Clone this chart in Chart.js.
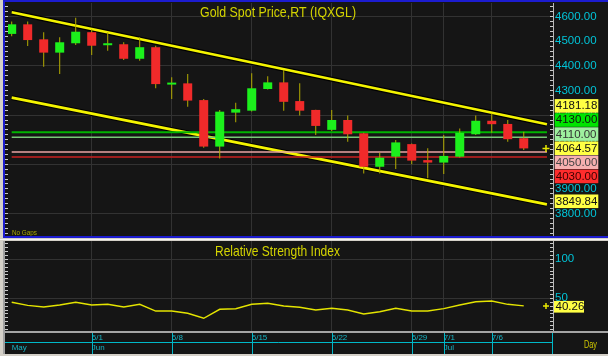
<!DOCTYPE html>
<html><head><meta charset="utf-8">
<script src="https://cdn.jsdelivr.net/npm/chart.js@4.4.1/dist/chart.umd.min.js"></script>
<style>
html,body{margin:0;padding:0;}
body{width:608px;height:356px;background:#d4d0c8;position:relative;overflow:hidden;}
#p1{position:absolute;left:3px;top:0;width:603px;height:234px;border:2px solid #1c1cd0;border-right:none;background:#151515;}
#gap{position:absolute;left:0;top:239px;width:608px;height:1px;background:#f4f4f4;}
#p2{position:absolute;left:3px;top:241px;width:603px;height:113px;border-left:2px solid #a0a0a0;background:#151515;}
canvas{display:block;}
</style></head><body>
<div id="p1"><canvas id="c1" width="603" height="234"></canvas></div>
<div id="gap"></div>
<div id="p2"><canvas id="c2" width="603" height="113"></canvas></div>
<script>
// ---- data ----
const open  = [4530,4569,4508,4454,4492,4537,4484,4488,4429,4476,4324,4329,4261,4072,4210,4218,4306,4333,4257,4221,4140,4180,4126,3990,4031,4082,4017,4007,4031,4122,4177,4164,4106];
const high  = [4580,4580,4537,4516,4596,4549,4537,4496,4516,4482,4354,4367,4265,4221,4250,4370,4358,4383,4329,4222,4221,4198,4128,4047,4099,4085,4065,4119,4146,4198,4207,4180,4132];
const low   = [4521,4481,4397,4367,4485,4444,4462,4424,4421,4309,4265,4234,4067,4024,4171,4215,4304,4218,4198,4119,4135,4092,3963,3963,3981,4000,3943,3961,4028,4119,4128,4092,4058];
const close = [4569,4505,4454,4496,4539,4482,4490,4429,4476,4326,4328,4259,4072,4214,4224,4309,4333,4254,4218,4156,4180,4122,3990,4027,4089,4015,4007,4034,4128,4177,4163,4102,4064.57];
const rsi   = [44.9,41.0,38.8,41.4,44.9,41.4,42.3,38.8,42.3,33.7,33.7,30.8,24.4,35.9,36.7,42.3,43.6,40.1,38.5,35.0,37.2,35.0,29.9,32.8,37.2,33.7,33.7,36.7,41.4,45.6,46.5,42.3,40.26];
const gridIdx = [5,10,15,20,25,27,30];
const dateLabels = ['6/1','6/8','6/15','6/22','6/29','7/1','7/6'];
const monthIdx = [0,5,27];
const monthLabels = ['May','Jun','Jul'];
const priceTicks = [4600,4500,4400,4300,4200,4100,4000,3900,3800];
const rsiTicks = [100,50];
const trendX = [0,33.45];
const upperTrend = [4618,4163];
const lowerTrend = [4271,3837];
const levels = [4130,4110,4050,4030];
const levelColors = ['#00b400','#78c878','#eaa4a4','#c82020'];
const levelWidths = [2,1.5,1.5,1.5];
const boxValues = [4181.18,4130,4110,4064.57,4050,4030,3849.84];
const boxFill = ['#ffff44','#00e400','#9ef09e','#ffff44','#f7b0b0','#ff2c2c','#ffff44'];
const boxInk  = ['#111','#111','#333','#111','#444','#3a0000','#111'];
const rsiLast = 40.26;
const titleMain = 'Gold Spot Price,RT (IQXGL)';
const titleRsi = 'Relative Strength Index';

// ---- helpers ----
const X_MIN = -0.231, X_MAX = 33.64;
const AX = "11.5px 'Liberation Sans', Arial, sans-serif";
const idx = open.map((_, i) => i);
function fixW(w){ return s => { s.width = w; s.paddingTop=0; s.paddingBottom=0; s.paddingLeft=0; s.paddingRight=0; }; }
function fixH(h){ return s => { s.height = h; s.paddingTop=0; s.paddingBottom=0; s.paddingLeft=0; s.paddingRight=0; }; }
function setTicks(vals){ return s => { s.ticks = vals.map(v => ({value:v})); }; }
function range(a,b,st){ const r=[]; for(let v=a; v<=b+1e-9; v+=st) r.push(Math.round(v*100)/100); return r; }
function fitText(ctx, text, x, y, w, font, color){
  ctx.save(); ctx.font=font; ctx.fillStyle=color; ctx.textBaseline='alphabetic'; ctx.textAlign='left';
  const m = ctx.measureText(text).width; ctx.translate(x,y); ctx.scale(w/m,1); ctx.fillText(text,0,0); ctx.restore();
}
function layoutBoxes(items, h){
  items.sort((a,b)=>a.y-b.y);
  let groups = items.map(it=>({items:[it], center:it.y}));
  let changed = true;
  while(changed){
    changed=false;
    for(let i=0;i<groups.length-1;i++){
      const g=groups[i], n=groups[i+1];
      if (g.center + g.items.length*h/2 > n.center - n.items.length*h/2){
        const merged=g.items.concat(n.items);
        groups.splice(i,2,{items:merged, center: merged.reduce((s,it)=>s+it.y,0)/merged.length});
        changed=true; break;
      }
    }
  }
  groups.forEach(g=>{ const top=g.center-g.items.length*h/2; g.items.forEach((it,k)=>{ it.top=top+k*h; }); });
}
function yAxes(min, max, minorStep, minorFrom, minorTo, gridMod, labelVals, fmt){
  return {
    yL: { type:'linear', position:'left', min, max,
      afterBuildTicks: setTicks(range(minorFrom, minorTo, minorStep)), afterFit: fixW(3),
      ticks:{display:false}, border:{display:false},
      grid:{drawOnChartArea:false, drawTicks:true, tickLength:3, tickColor:'#c8c8c8', color:'#c8c8c8'} },
    yR: { type:'linear', position:'right', weight:0, min, max,
      afterBuildTicks: setTicks(range(minorFrom, minorTo, minorStep)), afterFit: fixW(3),
      ticks:{display:false}, border:{display:false},
      grid:{drawOnChartArea:true, drawTicks:true, tickLength:3, tickColor:'#c8c8c8',
        color: c => (Math.abs(c.tick.value % gridMod) < 1e-6 ? '#323232' : 'rgba(0,0,0,0)')} },
    y: { type:'linear', position:'right', weight:1, min, max,
      afterBuildTicks: setTicks(labelVals), afterFit: fixW(55),
      border:{display:true, color:'#b8b8b8', width:1},
      grid:{display:true, drawOnChartArea:false, drawTicks:false, color:'rgba(0,0,0,0)'},
      ticks:{color:'#00c4d8', font:{family:"'Liberation Sans', Arial, sans-serif", size:11.5}, padding:2, callback:fmt} }
  };
}

// ---- main chart ----
const mainOverlay = {
  id:'mainOverlay',
  afterDraw(chart){
    const ctx=chart.ctx, ys=chart.scales.y;
    fitText(ctx, titleMain, 195, 14.5, 156, "15px 'Liberation Sans', Arial, sans-serif", '#d4d400');
    fitText(ctx, 'No Gaps', 7, 232.5, 25, "8px 'Liberation Sans', Arial, sans-serif", '#a8a800');
    const items = boxValues.map((v,i)=>({v, y: ys.getPixelForValue(v), bg: boxFill[i], fg: boxInk[i]}));
    layoutBoxes(items, 14.1);
    ctx.save(); ctx.font=AX; ctx.textBaseline='middle'; ctx.textAlign='left';
    items.forEach(it=>{
      ctx.fillStyle=it.bg; ctx.fillRect(549.7, it.top+0.3, 43.6, 13.6);
      ctx.fillStyle=it.fg; ctx.fillText(it.v.toFixed(2), 550.8, it.top+7.4);
    });
    ctx.restore();
  }
};

const mainDatasets = [
  { type:'bar', label:'wick', data: idx.map(i=>({x:i, y:[low[i], high[i]]})), backgroundColor:'#b4ac00',
    grouped:false, maxBarThickness:1, order:5, yAxisID:'y' },
  { type:'bar', label:'body', data: idx.map(i=>({x:i, y:[open[i], close[i]]})),
    backgroundColor: idx.map(i => close[i] >= open[i] ? '#1cf01c' : '#f02a2a'),
    grouped:false, maxBarThickness:9, minBarLength:2, order:4, yAxisID:'y' },
];
[upperTrend, lowerTrend].forEach(t=>{
  mainDatasets.push({ type:'line', data: trendX.map((x,k)=>({x, y:t[k]})), borderColor:'#000000', borderWidth:5, pointRadius:0, order:10, yAxisID:'y' });
  mainDatasets.push({ type:'line', data: trendX.map((x,k)=>({x, y:t[k]})), borderColor:'#f4f400', borderWidth:2.6, pointRadius:0, order:9, yAxisID:'y' });
});
levels.forEach((v,k)=>{
  mainDatasets.push({ type:'line', data: trendX.map(x=>({x, y:v})), borderColor:levelColors[k], borderWidth:levelWidths[k], pointRadius:0, order:8, yAxisID:'y' });
});
mainDatasets.push({ type:'line', data:[{x:33.39, y:close[close.length-1]}], showLine:false, pointStyle:'cross',
  pointRadius:3.5, pointBorderColor:'#e8e800', pointBorderWidth:1.5, order:1, yAxisID:'y' });

new Chart(document.getElementById('c1'), {
  type:'bar',
  data:{ datasets: mainDatasets },
  options:{
    responsive:false, animation:false, events:[], devicePixelRatio:1,
    layout:{padding:{top:1,left:0,right:0,bottom:0}, autoPadding:false},
    plugins:{legend:{display:false}, tooltip:{enabled:false}},
    scales: Object.assign({
      x:{ type:'linear', min:X_MIN, max:X_MAX, offset:false, position:'bottom',
        afterBuildTicks:setTicks(gridIdx), afterFit:fixH(0),
        ticks:{display:false}, border:{display:false},
        grid:{offset:false, drawTicks:false, color:'#323232'} }
    }, yAxes(3708.5, 4655.7, 20, 3720, 4640, 200, priceTicks, v => Number(v).toFixed(2)))
  },
  plugins:[mainOverlay]
});

// ---- RSI chart ----
const rsiOverlay = {
  id:'rsiOverlay',
  afterDraw(chart){
    const ctx=chart.ctx, xs=chart.scales.x, ys=chart.scales.y, a=chart.chartArea;
    fitText(ctx, titleRsi, 210, 15, 125, "15px 'Liberation Sans', Arial, sans-serif", '#d4d400');
    ctx.save();
    ctx.fillStyle='#a4a4a4'; ctx.fillRect(0, a.bottom-1, chart.width, 2);
    ctx.strokeStyle='#00b8c8'; ctx.lineWidth=1;
    ctx.beginPath();
    ctx.moveTo(0, a.bottom+10.5); ctx.lineTo(547.5, a.bottom+10.5);
    gridIdx.forEach(i=>{ const x=Math.round(xs.getPixelForValue(i))+0.5; ctx.moveTo(x, a.bottom+1); ctx.lineTo(x, chart.height); });
    ctx.moveTo(547.5, a.bottom+1); ctx.lineTo(547.5, chart.height);
    ctx.stroke();
    const y = ys.getPixelForValue(rsiLast);
    ctx.fillStyle='#ffff44'; ctx.fillRect(549, y-5, 30, 11.7);
    ctx.fillStyle='#111'; ctx.font=AX; ctx.textBaseline='middle'; ctx.textAlign='left';
    ctx.fillText(rsiLast.toFixed(2), 550.5, y+1);
    ctx.restore();
    fitText(ctx, 'Day', 579, 107, 13, "10px 'Liberation Sans', Arial, sans-serif", '#d0c800');
  }
};

const xLabelIdx = Array.from(new Set(monthIdx.concat(gridIdx))).sort((a,b)=>a-b);
new Chart(document.getElementById('c2'), {
  type:'line',
  data:{ datasets:[
    { data: idx.map(i=>({x:i, y:rsi[i]})), borderColor:'#e4e400', borderWidth:1.4, pointRadius:0, tension:0, yAxisID:'y' },
    { data:[{x:33.39, y:rsiLast}], showLine:false, pointStyle:'cross', pointRadius:3, pointBorderColor:'#e8e800', pointBorderWidth:1.5, yAxisID:'y' }
  ]},
  options:{
    responsive:false, animation:false, events:[], devicePixelRatio:1,
    layout:{padding:0, autoPadding:false},
    plugins:{legend:{display:false}, tooltip:{enabled:false}},
    scales: Object.assign({
      x:{ type:'linear', min:X_MIN, max:X_MAX, offset:false, position:'bottom',
        afterBuildTicks:setTicks(xLabelIdx), afterFit:fixH(22),
        border:{display:false},
        grid:{offset:false, drawTicks:false, color: c => (c.tick && c.tick.value === 0 ? 'rgba(0,0,0,0)' : '#323232')},
        ticks:{ autoSkip:false, maxRotation:0, minRotation:0, align:'start', padding:1, color:'#18b4c4',
          font:{family:"'Liberation Sans Narrow', 'Liberation Sans', Arial, sans-serif", size:8, lineHeight:1.25},
          callback: v => { const d = gridIdx.indexOf(v), m = monthIdx.indexOf(v);
            return [d >= 0 ? dateLabels[d] : '', m >= 0 ? monthLabels[m] : '']; } } }
    }, yAxes(6.8, 123.5, 5, 10, 120, 50, rsiTicks, v => String(v)))
  },
  plugins:[rsiOverlay]
});
</script></body></html>
